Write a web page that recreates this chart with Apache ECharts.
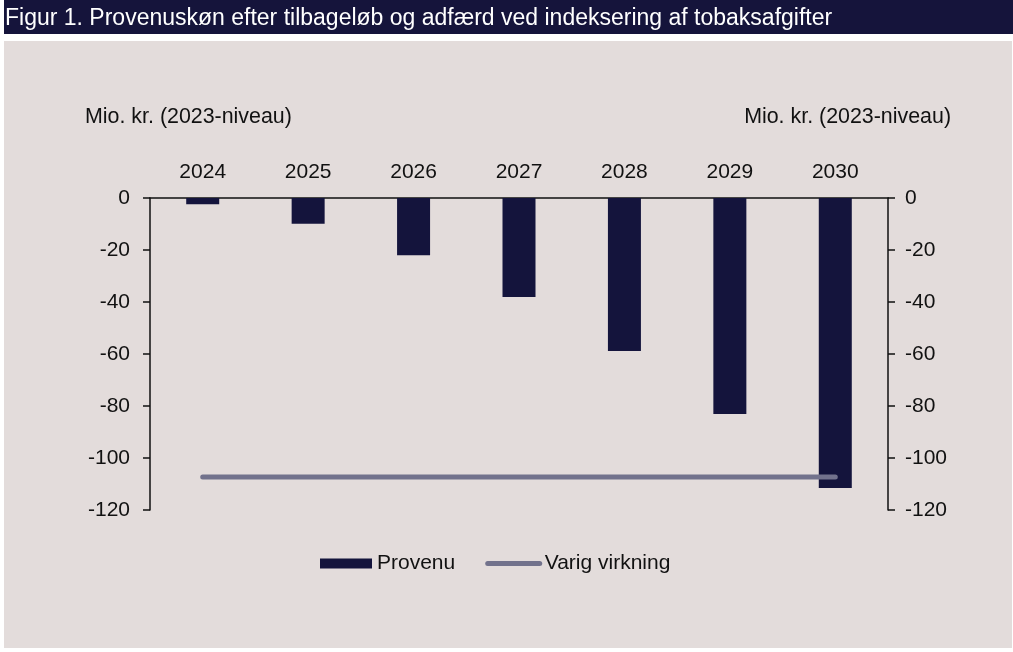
<!DOCTYPE html>
<html>
<head>
<meta charset="utf-8">
<script src="https://cdn.jsdelivr.net/npm/echarts@6/dist/echarts.min.js"></script>
<style>
html,body{margin:0;padding:0;background:#fff;}
#c{width:1013px;height:652px;}
</style>
</head>
<body>
<div id="c"></div>
<script>
const categories = ['2024','2025','2026','2027','2028','2029','2030'];
const provenu = [-2.4, -9.9, -22.0, -38.1, -58.8, -83.1, -111.5];
const varigVirkning = [-107.3, -107.3, -107.3, -107.3, -107.3, -107.3, -107.3];
const titleText = 'Figur 1. Provenuskøn efter tilbageløb og adfærd ved indeksering af tobaksafgifter';
const axisName = 'Mio. kr. (2023-niveau)';

const FONT = '"Liberation Sans", Arial, sans-serif';
const chart = echarts.init(document.getElementById('c'));
const yAxisCommon = {
  type: 'value', min: -120, max: 0, interval: 20,
  splitLine: {show: false},
  axisLine: {show: true, lineStyle: {color: '#111', width: 1.5}},
  axisTick: {show: true, length: 7, lineStyle: {color: '#111', width: 1.5}},
  axisLabel: {color: '#111', fontSize: 21, fontFamily: FONT}
};
chart.setOption({
  backgroundColor: '#fff',
  animation: false,
  graphic: [
    {type: 'rect', shape: {x: 4, y: 0, width: 1009, height: 34}, style: {fill: '#15143b'}, z: -10},
    {type: 'rect', shape: {x: 4, y: 41, width: 1008, height: 607}, style: {fill: '#e3dcdb'}, z: -10},
    {type: 'text', left: 5, top: 7, style: {text: titleText, fill: '#fff', fontSize: 23, fontFamily: FONT}},
    {type: 'text', left: 85, top: 107, style: {text: axisName, fill: '#111', fontSize: 21.4, fontFamily: FONT}},
    {type: 'text', right: 62, top: 107, style: {text: axisName, fill: '#111', fontSize: 21.4, fontFamily: FONT}}
  ],
  grid: {left: 150, right: 125, top: 198, bottom: 142},
  legend: {
    left: 315, top: 548,
    itemWidth: 52, itemHeight: 10, itemGap: 30,
    textStyle: {color: '#111', fontSize: 21, fontFamily: FONT},
    lineStyle: {width: 5, cap: 'round'},
    data: [
      {name: 'Provenu', icon: 'rect'},
      {name: 'Varig virkning', itemStyle: {opacity: 0}, lineStyle: {width: 5, cap: 'round', color: '#72728c'}}
    ]
  },
  xAxis: {
    type: 'category', data: categories, position: 'top',
    axisLine: {show: true, onZero: false, lineStyle: {color: '#111', width: 1.5}},
    axisTick: {show: false},
    axisLabel: {color: '#111', fontSize: 21, fontFamily: FONT, margin: 15}
  },
  yAxis: [
    Object.assign({}, yAxisCommon, {position: 'left', axisLabel: Object.assign({}, yAxisCommon.axisLabel, {margin: 20})}),
    Object.assign({}, yAxisCommon, {position: 'right', axisLabel: Object.assign({}, yAxisCommon.axisLabel, {margin: 17})})
  ],
  series: [
    {name: 'Provenu', type: 'bar', data: provenu, barWidth: 33,
     itemStyle: {color: '#14143c'}},
    {name: 'Varig virkning', type: 'line', data: varigVirkning, symbol: 'none',
     lineStyle: {color: '#72728c', width: 5, cap: 'round'}, itemStyle: {color: '#72728c'}, z: 3}
  ]
});
</script>
</body>
</html>
